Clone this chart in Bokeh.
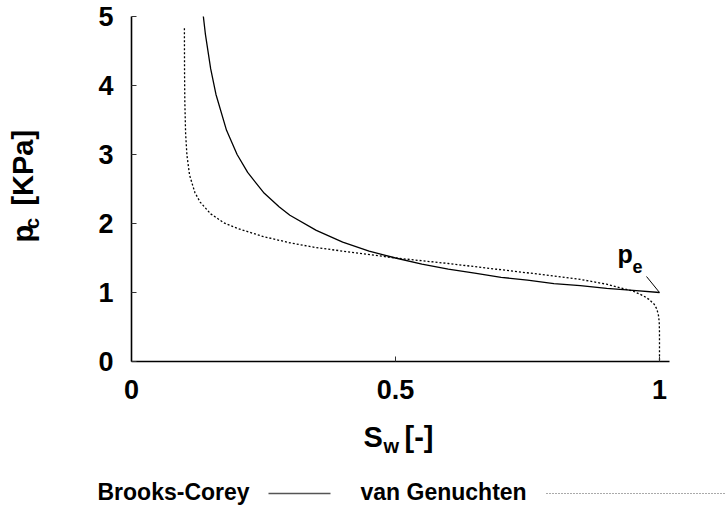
import math
from bokeh.plotting import figure
from bokeh.layouts import column, row
from bokeh.models import Range1d, FixedTicker, Label
from bokeh.core.properties import value
from bokeh.embed import file_html
from bokeh.resources import INLINE

# ---- data ----
SERIES_NAMES = ["Brooks-Corey", "van Genuchten"]

SW_BC = [0.134, 0.14, 0.15, 0.16, 0.18, 0.20, 0.22, 0.25, 0.28, 0.30, 0.35, 0.40, 0.45,
         0.50, 0.55, 0.60, 0.65, 0.70, 0.75, 0.80, 0.85, 0.90, 0.95, 1.00]
PC_BC = [5.14, 4.74, 4.24, 3.87, 3.35, 3.00, 2.74, 2.45, 2.24, 2.12, 1.90, 1.73, 1.60,
         1.50, 1.41, 1.34, 1.28, 1.22, 1.18, 1.13, 1.10, 1.06, 1.03, 1.00]

SW_VG = [0.1002, 0.1005, 0.101, 0.1025, 0.105, 0.11, 0.12, 0.13, 0.15, 0.175, 0.20, 0.25,
         0.30, 0.35, 0.40, 0.50, 0.60, 0.70, 0.80, 0.85, 0.90, 0.93, 0.95, 0.97, 0.98,
         0.99, 0.995, 0.998, 0.9995, 0.99995, 1.0]
PC_VG = [4.83, 4.15, 3.76, 3.30, 2.99, 2.70, 2.45, 2.31, 2.14, 2.01, 1.93, 1.81,
         1.72, 1.65, 1.60, 1.50, 1.42, 1.33, 1.24, 1.19, 1.12, 1.06, 1.02, 0.95, 0.90,
         0.83, 0.76, 0.67, 0.57, 0.43, 0.0]

X_TICKS = [0, 0.5, 1]
X_TICK_LABELS = ["0", "0.5", "1"]
Y_TICKS = [0, 1, 2, 3, 4, 5]
Y_TICK_LABELS = ["0", "1", "2", "3", "4", "5"]

# ---- layout (pixels of the 725 x 514 page) ----
FONT = "Liberation Sans"
W, H = 725, 514
YL_W = 62                      # strip that holds the y-axis title
TOP_H = 413                    # height of the upper row
BOT_H = H - TOP_H
FL, FT, FW, FH = 131, 16, 538, 345   # plot frame on the page
PX_PER_X = 528.0
X_END = FW / PX_PER_X
Y_END = 5.0
PX_PER_Y = FH / Y_END
K = 0.37                       # baseline correction (fraction of font size)
KR_X, KR_Y = 0.54, 0.48        # correction for rotated text


def dx(sx):
    return (sx - FL) / PX_PER_X


def dy(sy):
    return (FT + FH - sy) / PX_PER_Y


def blank(width, height):
    f = figure(width=width, height=height, title=None, output_backend="svg",
               toolbar_location=None,
               x_range=Range1d(0, width), y_range=Range1d(0, height),
               x_axis_type=None, y_axis_type=None, min_border=0)
    f.frame_width = width
    f.frame_height = height
    f.outline_line_color = None
    f.grid.visible = False
    f.background_fill_color = "white"
    f.border_fill_color = "white"
    return f


def txt(f, fig_top, fig_h, s, sx, sy, size, rotated=False):
    if rotated:
        sx -= KR_X * size
        sy -= KR_Y * size
    else:
        sy -= K * size
    f.text(x=[sx], y=[fig_top + fig_h - sy], text=[s],
           angle=math.pi / 2 if rotated else 0.0,
           text_font=value(FONT), text_font_style="bold", text_font_size=f"{size}px",
           text_color="black", text_align="left", text_baseline="alphabetic")


# ---- main plot ----
p = figure(width=W - YL_W, height=TOP_H, title=None, output_backend="svg",
           toolbar_location=None, x_range=Range1d(0, X_END), y_range=Range1d(0, Y_END))
p.frame_width = FW
p.frame_height = FH
p.min_border_left = FL - YL_W
p.min_border_top = FT
p.min_border_right = W - FL - FW
p.min_border_bottom = TOP_H - FT - FH
p.outline_line_color = None
p.grid.visible = False
p.background_fill_color = "white"
p.border_fill_color = "white"

for ax in (p.xaxis[0], p.yaxis[0]):
    ax.axis_line_width = 1.6
    ax.axis_line_color = "black"
    ax.major_tick_in = 5
    ax.major_tick_out = 0
    ax.major_tick_line_color = "#333333"
    ax.major_tick_line_width = 1
    ax.minor_tick_line_color = None
    ax.major_label_text_font = FONT
    ax.major_label_text_font_style = "bold"
    ax.major_label_text_font_size = "27px"
    ax.major_label_text_color = "black"

p.xaxis[0].ticker = FixedTicker(ticks=X_TICKS)
p.xaxis[0].major_label_overrides = {t: l for t, l in zip(X_TICKS, X_TICK_LABELS)}
p.xaxis[0].major_label_standoff = 18
p.yaxis[0].ticker = FixedTicker(ticks=Y_TICKS)
p.yaxis[0].major_label_overrides = {t: l for t, l in zip(Y_TICKS, Y_TICK_LABELS)}
p.yaxis[0].major_label_standoff = 18

p.line(SW_BC, PC_BC, line_color="black", line_width=1.3)
p.line(SW_VG, PC_VG, line_color="black", line_width=1.3, line_dash="2 2")

# p_e annotation
p.line([dx(646), SW_BC[-1]], [dy(276), PC_BC[-1]], line_color="black", line_width=1)
for s, sx, sy, size in (("p", 617, 263, 25), ("e", 632, 273, 18)):
    p.add_layout(Label(x=dx(sx), y=dy(sy - K * size), text=s, text_font=FONT,
                       text_font_style="bold", text_font_size=f"{size}px",
                       text_color="black", text_align="left",
                       text_baseline="alphabetic"))

# ---- y-axis title strip ----
yl = blank(YL_W, TOP_H)
txt(yl, 0, TOP_H, "p", 38, 240, 29, rotated=True)
txt(yl, 0, TOP_H, "c", 42, 222, 20, rotated=True)
txt(yl, 0, TOP_H, "[KPa]", 38, 203, 29, rotated=True)

# ---- x-axis title and legend strip ----
bt = blank(W, BOT_H)
txt(bt, TOP_H, BOT_H, "S", 363, 447, 29)
txt(bt, TOP_H, BOT_H, "w", 383, 453, 20)
txt(bt, TOP_H, BOT_H, "[-]", 404, 447, 29)

txt(bt, TOP_H, BOT_H, SERIES_NAMES[0], 97, 500, 23)
txt(bt, TOP_H, BOT_H, SERIES_NAMES[1], 360, 500, 23)
LEG_Y = H - 493
bt.line([268, 330], [LEG_Y, LEG_Y], line_color="#555555", line_width=1.5)
bt.line([546, 725], [LEG_Y, LEG_Y], line_color="#555555", line_width=1, line_dash="1 2")

layout = column(row(yl, p, spacing=0), bt, spacing=0)
open("out.html", "w").write(file_html(layout, INLINE))
